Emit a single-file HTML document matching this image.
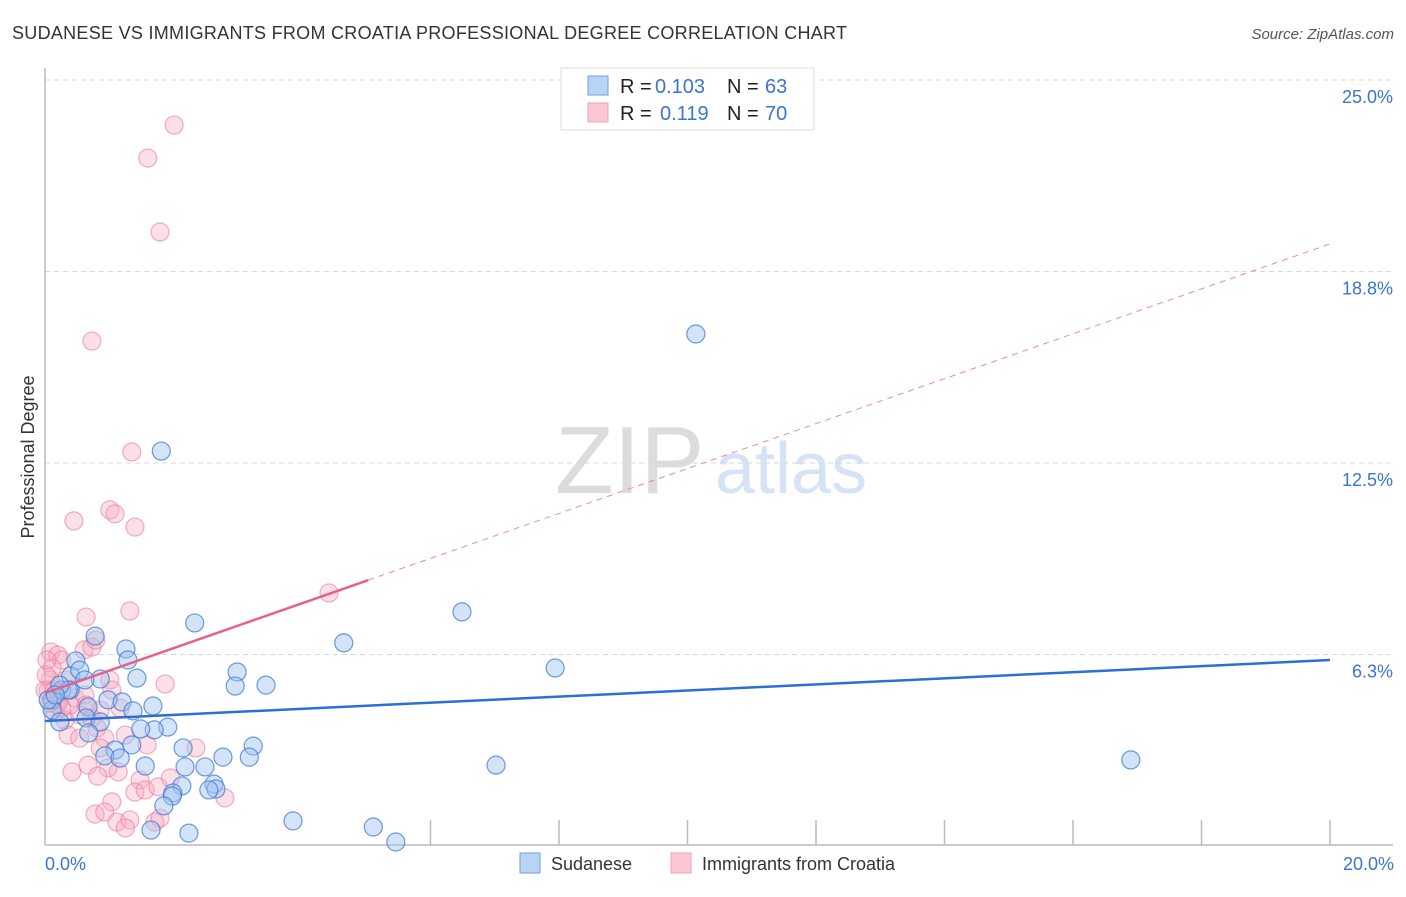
<!DOCTYPE html>
<html><head><meta charset="utf-8"><style>
body{margin:0;background:#fff;font-family:"Liberation Sans",sans-serif}
svg text{font-family:"Liberation Sans",sans-serif}
</style></head><body>
<svg id="chart" width="1406" height="892" xmlns="http://www.w3.org/2000/svg">
<text x="12" y="39" font-size="18" fill="#333" textLength="835">SUDANESE VS IMMIGRANTS FROM CROATIA PROFESSIONAL DEGREE CORRELATION CHART</text>
<text x="1394" y="39" font-size="15" fill="#555" text-anchor="end" font-style="italic">Source: ZipAtlas.com</text>
<text x="555" y="493" font-size="96" fill="#dcdcdc" font-family="Liberation Serif">ZIP</text>
<text x="715" y="493" font-size="72" fill="#d6e3f5">atlas</text>
<g id="grid"></g>
<g id="axes"></g>
<g id="pts"></g>
<g id="lines"></g>
<text transform="translate(34,457) rotate(-90)" font-size="18" fill="#333" text-anchor="middle">Professional Degree</text>
<text x="45" y="870" font-size="18" fill="#3a75d0">0.0%</text>
<text x="1394" y="870" font-size="18" fill="#3a75d0" text-anchor="end">20.0%</text>
<g>
<rect x="561" y="68" width="253" height="62" fill="#fff" stroke="#ddd"/>
<rect x="588" y="76" width="20" height="19" fill="#b9d3f5" stroke="#6e9fe0"/>
<rect x="588" y="103" width="20" height="19" fill="#fcc8d6" stroke="#f0a0b8"/>
<text y="93" font-size="20" fill="#222"><tspan x="620">R =</tspan><tspan x="655" fill="#3a75d0">0.103</tspan><tspan x="727">N =</tspan><tspan x="765" fill="#3a75d0">63</tspan></text>
<text y="120" font-size="20" fill="#222"><tspan x="620">R =</tspan><tspan x="660" fill="#3a75d0">0.119</tspan><tspan x="727">N =</tspan><tspan x="765" fill="#3a75d0">70</tspan></text>
</g>
<g>
<rect x="520" y="853" width="20" height="20" fill="#b9d3f5" stroke="#6e9fe0"/>
<text x="551" y="870" font-size="18" fill="#333">Sudanese</text>
<rect x="671" y="853" width="20" height="20" fill="#fcc8d6" stroke="#f0a0b8"/>
<text x="702" y="870" font-size="18" fill="#333">Immigrants from Croatia</text>
</g>
</svg>
<script>
const yTicks=[25,18.75,12.5,6.25];
const yTickLabels=["25.0%","18.8%","12.5%","6.3%"];
const xTicks=[6,8,10,12,14,16,18,20];
const blueX=[10.13,1.81,6.49,2.33,4.65,0.78,1.26,1.29,7.94,2.99,2.96,3.44,0.48,1.43,0.86,0.40,0.98,1.20,1.68,1.37,0.67,0.11,0.11,0.26,0.39,0.64,0.86,0.23,1.91,1.70,1.49,0.68,1.35,3.24,2.15,1.09,0.93,1.17,2.77,3.18,1.56,2.18,2.49,7.02,16.90,2.13,2.63,2.66,2.55,1.99,1.98,1.85,3.86,5.11,2.24,1.65,5.46,0.36,0.23,0.05,0.16,0.54,0.62];
const blueY=[16.71,12.89,7.64,7.28,6.63,6.85,6.43,6.07,5.81,5.68,5.22,5.25,6.04,5.48,5.45,5.55,4.77,4.70,4.57,4.41,4.54,4.77,4.44,5.09,5.09,4.18,4.05,4.05,3.88,3.79,3.82,3.69,3.30,3.26,3.20,3.13,2.94,2.87,2.90,2.90,2.61,2.58,2.58,2.64,2.81,1.96,2.02,1.86,1.83,1.73,1.63,1.31,0.82,0.62,0.42,0.52,0.13,5.09,5.25,4.77,4.93,5.74,5.42];
const pinkX=[2.01,1.60,1.79,0.73,1.35,0.45,1.01,1.09,1.40,4.42,0.64,1.32,0.09,0.20,0.26,0.61,0.73,0.79,1.87,1.01,0.11,0.08,0.05,0.23,0.47,0.62,0.16,0.31,0.54,0.73,1.17,0.81,0.36,0.54,0.93,1.25,1.59,2.35,0.86,0.42,0.67,0.98,1.14,0.82,1.48,1.95,1.40,1.56,1.76,2.80,1.04,0.78,0.93,1.12,1.32,1.25,1.71,1.79,0.08,0.14,0.19,0.00,0.39,0.26,0.86,0.64,1.04,0.02,0.03,0.33];
const pinkY=[23.53,22.45,20.04,16.48,12.86,10.61,10.97,10.84,10.41,8.26,7.47,7.67,6.33,6.23,6.07,6.40,6.49,6.72,5.29,5.42,5.81,5.42,5.09,4.77,4.83,4.93,4.37,4.11,4.28,4.18,4.50,3.85,3.62,3.52,3.52,3.62,3.30,3.20,3.20,2.42,2.64,2.55,2.42,2.28,2.15,2.22,1.76,1.83,1.93,1.57,1.44,1.04,1.11,0.78,0.85,0.59,0.78,0.91,4.67,5.09,4.60,5.09,4.60,4.50,4.44,4.60,5.09,5.58,6.07,5.42];
const blueLine=[4.08,6.07];
const pinkLine=[4.99,19.65];
const pinkSolidEnd=5.03;
const NS="http://www.w3.org/2000/svg";
const sx=v=>45+v*64.25, sy=v=>846-v*30.64;
function mk(t,a,p){const e=document.createElementNS(NS,t);for(const k in a)e.setAttribute(k,a[k]);p.appendChild(e);return e;}
const grid=document.getElementById('grid');
yTicks.forEach((t,i)=>{
 const l=mk('line',{x1:45,x2:1393,y1:sy(t),y2:sy(t),stroke:'#d8d8d8','stroke-dasharray':'5,4'},grid);
 
 
 const tx=mk('text',{x:1393,y:sy(t)+23,'font-size':18,fill:'#3a75d0','text-anchor':'end'},grid);
 tx.textContent=yTickLabels[i];
 
 
});
const ax=document.getElementById('axes');
const xl=mk('line',{x1:45,x2:1393,y1:845,y2:845,stroke:'#bbb','stroke-width':1.5},ax);


const yl=mk('line',{x1:45,x2:45,y1:68,y2:845,stroke:'#bbb','stroke-width':1.5},ax);


xTicks.forEach(t=>{
 const l=mk('line',{x1:sx(t),x2:sx(t),y1:820,y2:845,stroke:'#bbb','stroke-width':1.5},ax);
 
 
});
const pts=document.getElementById('pts');
pinkX.forEach((x,i)=>{
 const c=mk('circle',{cx:sx(x),cy:sy(pinkY[i]),r:9,fill:'rgba(246,170,192,0.38)',stroke:'rgba(236,120,155,0.6)','stroke-width':1.2},pts);
 
 
});
blueX.forEach((x,i)=>{
 const c=mk('circle',{cx:sx(x),cy:sy(blueY[i]),r:9,fill:'rgba(160,196,240,0.45)',stroke:'rgba(60,120,210,0.75)','stroke-width':1.2},pts);
 
 
});
const ln=document.getElementById('lines');
const py=x=>pinkLine[0]+(pinkLine[1]-pinkLine[0])*x/20;
const bl=mk('line',{x1:sx(0),y1:sy(blueLine[0]),x2:sx(20),y2:sy(blueLine[1]),stroke:'#2a6fd6','stroke-width':2.5},ln);


const pd=mk('line',{x1:sx(pinkSolidEnd),y1:sy(py(pinkSolidEnd)),x2:sx(20),y2:sy(pinkLine[1]),stroke:'#e88aa8','stroke-width':1,'stroke-dasharray':'6,5'},ln);


const ps=mk('line',{x1:sx(0),y1:sy(pinkLine[0]),x2:sx(pinkSolidEnd),y2:sy(py(pinkSolidEnd)),stroke:'#e8608a','stroke-width':2.5},ln);


</script>
</body></html>
